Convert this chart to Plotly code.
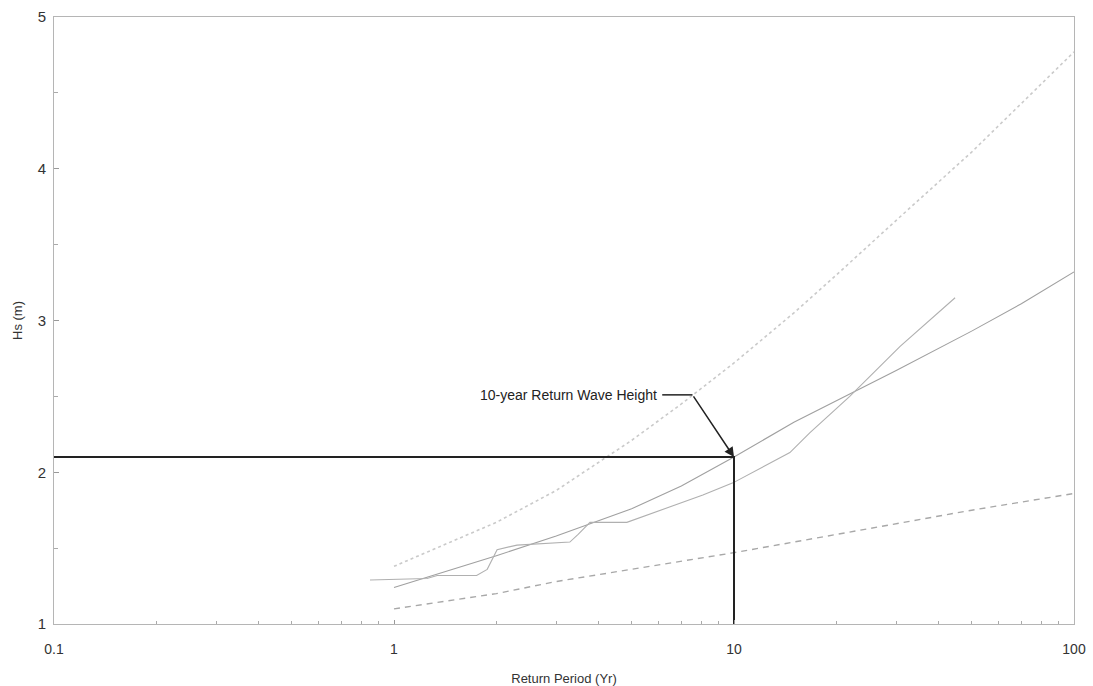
import plotly.graph_objects as go
import math

# Return period (years) and significant wave height (m)
fit_T = [1, 1.5, 2, 3, 5, 7, 10, 15, 20, 30, 50, 70, 100]
fit_H = [1.24, 1.36, 1.45, 1.58, 1.76, 1.91, 2.10, 2.33, 2.47, 2.67, 2.93, 3.11, 3.32]

upper_T = [1, 1.5, 2, 3, 5, 7, 10, 15, 20, 30, 50, 70, 100]
upper_H = [1.38, 1.55, 1.67, 1.88, 2.21, 2.45, 2.72, 3.05, 3.30, 3.66, 4.11, 4.43, 4.77]

lower_T = [1, 2, 3, 5, 10, 20, 30, 50, 100]
lower_H = [1.10, 1.20, 1.28, 1.36, 1.47, 1.59, 1.66, 1.75, 1.86]

obs_T = [0.85, 1.25, 1.34, 1.75, 1.88, 2.01, 2.30, 2.88, 3.29, 3.48, 3.77, 4.84,
         6.48, 8.10, 9.93, 14.6, 16.7, 21.9, 30.8, 44.7]
obs_H = [1.29, 1.30, 1.32, 1.32, 1.36, 1.49, 1.52, 1.53, 1.54, 1.59, 1.67, 1.67,
         1.77, 1.85, 1.93, 2.13, 2.26, 2.50, 2.83, 3.15]

design_T = 10
design_H = 2.1

x_ticks = [0.1, 1, 10, 100]
x_tick_text = ["0.1", "1", "10", "100"]
x_minor = [m * d for d in (0.1, 1, 10) for m in range(2, 10)]
y_ticks = [1, 2, 3, 4, 5]

fig = go.Figure()

fig.add_trace(go.Scatter(x=upper_T, y=upper_H, mode="lines",
                         line=dict(color="#cacaca", width=1.6, dash="dot")))
fig.add_trace(go.Scatter(x=lower_T, y=lower_H, mode="lines",
                         line=dict(color="#a8a8a8", width=1.4, dash="6px,5px")))
fig.add_trace(go.Scatter(x=fit_T, y=fit_H, mode="lines",
                         line=dict(color="#a0a0a0", width=1.1)))
fig.add_trace(go.Scatter(x=obs_T, y=obs_H, mode="lines",
                         line=dict(color="#b0b0b0", width=1.1)))
# Design wave height guide lines
fig.add_trace(go.Scatter(x=[x_ticks[0], design_T, design_T], y=[design_H, design_H, y_ticks[0]],
                         mode="lines", line=dict(color="#222222", width=2)))

label_y = 2.51
label_font = dict(family="Liberation Sans, Arial", size=14, color="#222222")
fig.add_annotation(x=math.log10(6.0), y=label_y, xref="x", yref="y",
                   text="10-year Return Wave Height", showarrow=False,
                   xanchor="right", yanchor="middle", font=label_font)
fig.add_shape(type="line", xref="x", yref="y",
              x0=6.15, x1=7.55, y0=label_y, y1=label_y,
              line=dict(color="#222222", width=1.5))
fig.add_annotation(x=math.log10(design_T), y=design_H, xref="x", yref="y",
                   ax=math.log10(7.55), ay=label_y, axref="x", ayref="y",
                   text="", showarrow=True, arrowhead=2, arrowsize=1.3,
                   arrowwidth=1.5, arrowcolor="#222222")

title_font = dict(family="Liberation Sans, Arial", size=13, color="#333333")

fig.update_xaxes(type="log", range=[-1, 2], tickvals=x_ticks, ticktext=x_tick_text,
                 ticks="inside", ticklen=4, tickcolor="#999999",
                 minor=dict(tickvals=x_minor, ticks="inside", ticklen=3, tickcolor="#aaaaaa"),
                 showgrid=False, zeroline=False, showline=True, linecolor="#b5b5b5",
                 linewidth=1, mirror=True, ticklabelstandoff=12, automargin=False,
                 tickfont=dict(family="Liberation Sans, Arial", size=14, color="#333333"),
                 title=dict(text="Return Period (Yr)", font=title_font, standoff=18))
fig.update_yaxes(range=[1, 5], tickvals=y_ticks, ticks="inside", ticklen=5,
                 tickcolor="#999999",
                 minor=dict(dtick=0.5, ticks="inside", ticklen=4, tickcolor="#aaaaaa"),
                 showgrid=False, zeroline=False, showline=True, linecolor="#b5b5b5",
                 linewidth=1, mirror=True, ticklabelstandoff=4, automargin=False,
                 tickfont=dict(family="Liberation Sans, Arial", size=15, color="#333333"),
                 title=dict(text="Hs (m)", font=title_font, standoff=12))

fig.update_layout(width=1093, height=686, showlegend=False,
                  paper_bgcolor="white", plot_bgcolor="white",
                  margin=dict(l=54, r=19, t=17, b=62))

fig.write_html("out.html")
